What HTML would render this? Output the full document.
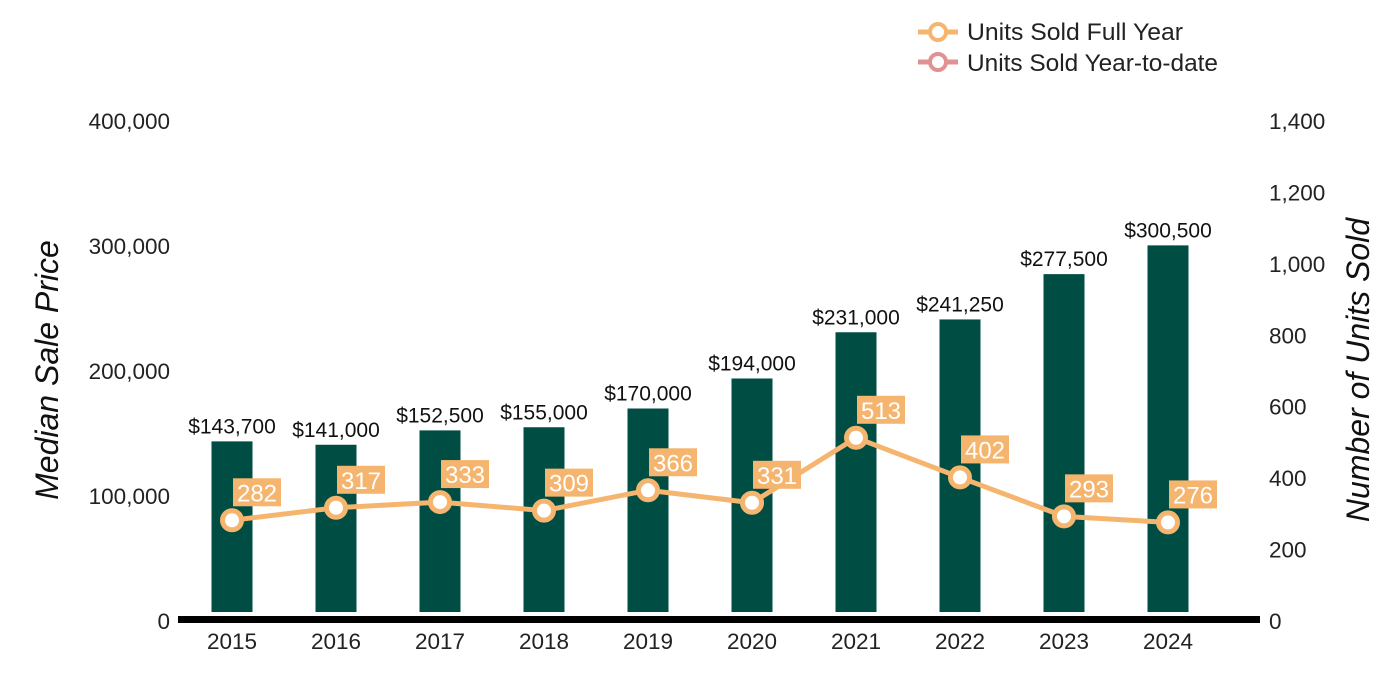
<!DOCTYPE html>
<html><head><meta charset="utf-8"><style>
body{margin:0;background:#fff;}
svg{display:block;font-family:"Liberation Sans",Arial,sans-serif;}
</style></head><body>
<svg id="chart" width="1400" height="700">
<g id="legend">
 <g>
  <line x1="918" y1="32" x2="958" y2="32" stroke="#f5b56e" stroke-width="5"/>
  <circle cx="938" cy="32" r="8" fill="#fff" stroke="#f5b56e" stroke-width="4"/>
  <text x="967" y="40" font-size="24" fill="#222" textLength="216" lengthAdjust="spacingAndGlyphs">Units Sold Full Year</text>
 </g>
 <g>
  <line x1="918" y1="62" x2="958" y2="62" stroke="#e09192" stroke-width="5"/>
  <circle cx="938" cy="62" r="8" fill="#fff" stroke="#e09192" stroke-width="4"/>
  <text x="967" y="71" font-size="24" fill="#222" textLength="251" lengthAdjust="spacingAndGlyphs">Units Sold Year-to-date</text>
 </g>
</g>
<text x="58" y="370" font-size="32" font-style="italic" fill="#111" text-anchor="middle" transform="rotate(-90 58 370)">Median Sale Price</text>
<text x="1369" y="370" font-size="32" font-style="italic" fill="#111" text-anchor="middle" transform="rotate(-90 1369 370)">Number of Units Sold</text>
<g id="plot"></g>
</svg>
<script>
const years=["2015","2016","2017","2018","2019","2020","2021","2022","2023","2024"];
const prices=[143700,141000,152500,155000,170000,194000,231000,241250,277500,300500];
const units=[282,317,333,309,366,331,513,402,293,276];
const leftTicks=[0,100000,200000,300000,400000];
const rightTicks=[0,200,400,600,800,1000,1200,1400];
const NS="http://www.w3.org/2000/svg";
const g=document.getElementById('plot');
const y0=621;
const yL=v=>y0-v*500/400000;
const yR=v=>y0-v*500/1400;
const xC=i=>232+i*104;
function mk(t,a,txt){const e=document.createElementNS(NS,t);for(const k in a)e.setAttribute(k,a[k]);if(txt!==undefined)e.textContent=txt;g.appendChild(e);return e;}
leftTicks.forEach(v=>{const e=mk('text',{x:170,y:yL(v)+8,'font-size':22.5,fill:'#222','text-anchor':'end'},v.toLocaleString('en-US'));

});
rightTicks.forEach(v=>{const e=mk('text',{x:1269,y:yR(v)+8,'font-size':22.5,fill:'#222'},v.toLocaleString('en-US'));

});
prices.forEach((p,i)=>{const t=yL(p);
const b=mk('rect',{x:xC(i)-20.5,y:t,width:41,height:612-t,fill:'#004d44'});


const l=mk('text',{x:xC(i),y:t-8,'font-size':21,fill:'#111','text-anchor':'middle'},'$'+p.toLocaleString('en-US'));


const xl=mk('text',{x:xC(i),y:649,'font-size':22.5,fill:'#222','text-anchor':'middle'},years[i]);

});
const ax=mk('rect',{x:178,y:616,width:1082,height:7,fill:'#000'});


const ln=mk('polyline',{points:units.map((u,i)=>xC(i)+','+yR(u)).join(' '),fill:'none',stroke:'#f5b56e','stroke-width':5});


units.forEach((u,i)=>{const cx=xC(i),cy=yR(u);
const c=mk('circle',{cx:cx,cy:cy,r:9.5,fill:'#fff',stroke:'#f5b56e','stroke-width':5});


const bx=mk('rect',{x:cx+1,y:cy-42,width:48,height:28,fill:'#f5b56e'});


const tx=mk('text',{x:cx+25,y:cy-19,'font-size':24,fill:'#fff','text-anchor':'middle'},u);

});
</script>
</body></html>
